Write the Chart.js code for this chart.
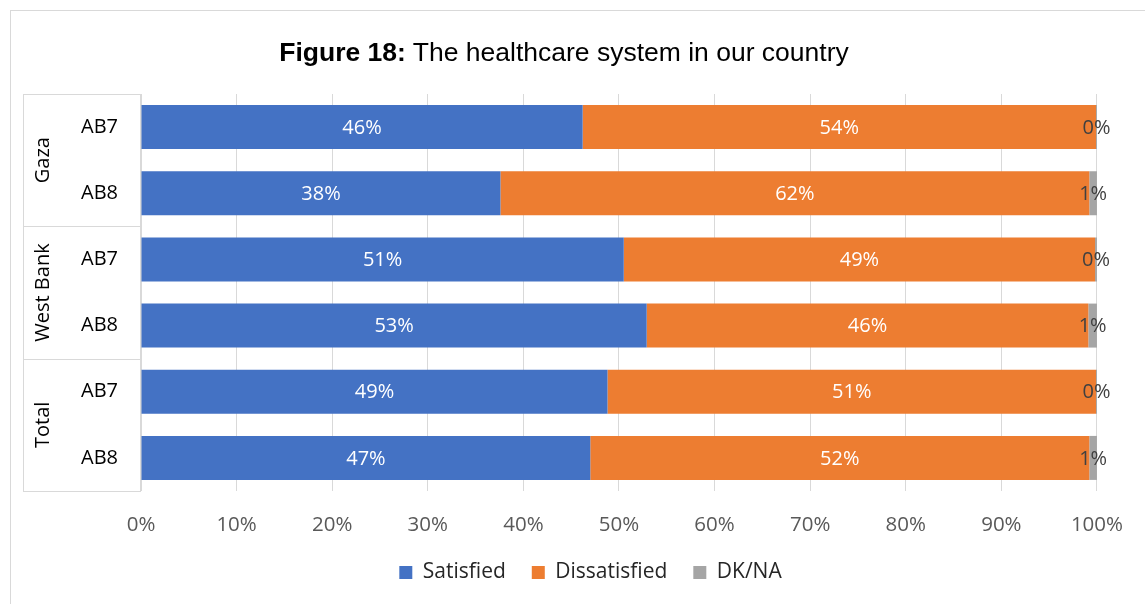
<!DOCTYPE html>
<html>
<head>
<meta charset="utf-8">
<script src="https://cdn.jsdelivr.net/npm/chart.js@4.4.0/dist/chart.umd.min.js"></script>
<style>
  html, body { margin: 0; padding: 0; background: #fff; overflow: hidden; }
  #frame {
    position: absolute; left: 10px; top: 10px; width: 1200px; height: 700px;
    border-left: 1px solid #d9d9d9; border-top: 1px solid #d9d9d9;
  }
  #title {
    position: absolute; left: 0; top: 39px; width: 1128px; text-align: center;
    font-family: "Liberation Sans", Arial, sans-serif; font-size: 26.5px; line-height: 26.5px; color: #000;
  }
  #title b { font-weight: bold; }
  #wrap { position: absolute; left: 11px; top: 11px; width: 1134px; height: 593px; }
</style>
</head>
<body>
<div id="frame"></div>
<div id="wrap"><canvas id="chart"></canvas></div>
<div id="title"><b>Figure 18:</b> The healthcare system in our country</div>
<script>
// ============================================
// DATA
// ============================================

const groups = ['Gaza', 'West Bank', 'Total'];
const waves = ['AB7', 'AB8', 'AB7', 'AB8', 'AB7', 'AB8'];
const satisfied = [46.2, 37.6, 50.5, 52.9, 48.8, 47.0];
const dissatisfied = [53.7, 61.6, 49.3, 46.2, 51.1, 52.2];
const dkna = [0.1, 0.8, 0.2, 0.9, 0.1, 0.8];
const xTicks = [0, 10, 20, 30, 40, 50, 60, 70, 80, 90, 100];

const FONT = '"Open Sans", sans-serif';

// ============================================
// PLUGINS
// ============================================

// values printed in the middle of each segment
const segmentLabels = {
    id: 'segmentLabels',
    afterDatasetsDraw(chart) {
        const ctx = chart.ctx;
        ctx.save();
        ctx.font = '20px ' + FONT;
        ctx.textAlign = 'center';
        ctx.textBaseline = 'middle';
        chart.data.datasets.forEach((ds, di) => {
            const meta = chart.getDatasetMeta(di);
            meta.data.forEach((bar, i) => {
                const p = bar.getCenterPoint();
                ctx.fillStyle = ds.labelColor;
                ctx.fillText(Math.round(ds.data[i]) + '%', p.x, p.y + 1);
            });
        });
        ctx.restore();
    }
};

// two-level category box on the left (Gaza / West Bank / Total)
const groupAxis = {
    id: 'groupAxis',
    afterLayout(chart) {
        // legend sits a bit right of the canvas centre in the original
        chart.legend.left += 30;
        chart.legend.right += 30;
    },
    afterDraw(chart) {
        const ctx = chart.ctx;
        const y = chart.scales.y;
        const area = chart.chartArea;
        const left = 12;
        const right = area.left - 1;
        ctx.save();
        ctx.strokeStyle = '#d9d9d9';
        ctx.lineWidth = 1;
        ctx.beginPath();
        ctx.moveTo(left + 0.5, area.top);
        ctx.lineTo(left + 0.5, area.bottom);
        ctx.moveTo(right + 0.5, area.top);
        ctx.lineTo(right + 0.5, area.bottom);
        for (let g = 0; g <= groups.length; g++) {
            const py = Math.round(y.getPixelForValue(g * 2 - 0.5)) + 0.5;
            ctx.moveTo(left, py);
            ctx.lineTo(right + 1, py);
        }
        ctx.stroke();

        ctx.fillStyle = '#000';
        ctx.font = '20px ' + FONT;
        ctx.textAlign = 'center';
        ctx.textBaseline = 'middle';
        groups.forEach((name, g) => {
            const cy = y.getPixelForValue(g * 2 + 0.5);
            ctx.save();
            ctx.translate(32, cy);
            ctx.rotate(-Math.PI / 2);
            ctx.fillText(name, 0, 0);
            ctx.restore();
        });
        ctx.restore();
    }
};

// ============================================
// CHART
// ============================================

new Chart(document.getElementById('chart'), {
    type: 'bar',
    data: {
        labels: waves,
        datasets: [
            { label: 'Satisfied', data: satisfied, backgroundColor: '#4472c4', labelColor: '#ffffff' },
            { label: 'Dissatisfied', data: dissatisfied, backgroundColor: '#ed7d31', labelColor: '#ffffff' },
            { label: 'DK/NA', data: dkna, backgroundColor: '#a5a5a5', labelColor: '#404040' }
        ]
    },
    options: {
        indexAxis: 'y',
        responsive: true,
        maintainAspectRatio: false,
        animation: false,
        datasets: {
            bar: { categoryPercentage: 1, barPercentage: 0.665, borderWidth: 0 }
        },
        layout: { padding: { top: 83, right: 35, left: 0, bottom: 11 } },
        plugins: {
            title: { display: false },
            tooltip: { enabled: false },
            legend: {
                position: 'bottom',
                labels: {
                    font: { family: FONT, size: 21 },
                    color: '#262626',
                    boxWidth: 13,
                    boxHeight: 13,
                    padding: 26
                }
            }
        },
        scales: {
            x: {
                stacked: true,
                min: 0,
                max: 100,
                afterBuildTicks: (scale) => { scale.ticks = xTicks.map(v => ({ value: v })); },
                afterFit: (scale) => { scale.height = 45; },
                grid: { color: '#d9d9d9', drawTicks: false },
                border: { display: false },
                ticks: {
                    color: '#595959',
                    font: { family: FONT, size: 20.5 },
                    padding: 22,
                    callback: (v) => v + '%'
                }
            },
            y: {
                stacked: true,
                afterFit: (scale) => { scale.width = 130; },
                grid: { display: false, drawTicks: false },
                border: { display: false },
                ticks: {
                    color: '#000',
                    font: { family: FONT, size: 20 },
                    padding: 23
                }
            }
        }
    },
    plugins: [segmentLabels, groupAxis]
});
</script>
</body>
</html>
